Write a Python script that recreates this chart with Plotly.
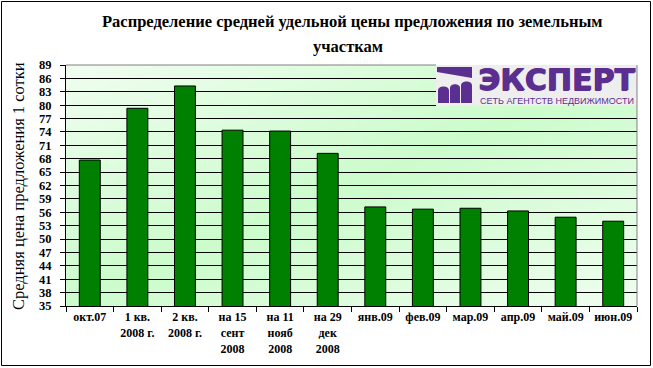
import base64, struct, zlib
import plotly.graph_objects as go

# ---------------- data ----------------
categories = ["окт.07", "1 кв.<br>2008 г.", "2 кв.<br>2008 г.", "на 15<br>сент<br>2008",
              "на 11<br>нояб<br>2008", "на 29<br>дек<br>2008", "янв.09", "фев.09",
              "мар.09", "апр.09", "май.09", "июн.09"]
values = [67.7, 79.3, 84.3, 74.4, 74.2, 69.2, 57.2, 56.7, 56.9, 56.3, 54.9, 54.0]
y_ticks = list(range(35, 90, 3))
title_line1 = "Распределение средней удельной цены предложения по земельным"
title_line2 = "участкам"
y_title = "Средняя цена предложения 1 сотки"
logo_main = "ЭКСПЕРТ"
logo_sub = "СЕТЬ АГЕНТСТВ НЕДВИЖИМОСТИ"

# ---------------- geometry helpers ----------------
FW, FH = 653, 368
L, R, T, B = 66, 637, 65, 306
W, H = R - L, B - T
def fx(px): return (px - L) / W
def fy(py): return (B - py) / H

# ---------------- gradient background (PNG data URI) ----------------
def make_png(w, h, fn):
    raw = b""
    for y in range(h):
        row = bytearray([0])
        for x in range(w):
            row.extend(fn(x, y))
        raw += bytes(row)
    def chunk(t, d):
        return struct.pack(">I", len(d)) + t + d + struct.pack(">I", zlib.crc32(t + d) & 0xffffffff)
    return (b"\x89PNG\r\n\x1a\n" + chunk(b"IHDR", struct.pack(">IIBBBBB", w, h, 8, 2, 0, 0, 0))
            + chunk(b"IDAT", zlib.compress(raw)) + chunk(b"IEND", b""))

light = (240, 253, 240)
green = (204, 252, 204)
GW, GH = 64, 48
def grad(x, y):
    t = abs(x / (GW - 1) + y / (GH - 1) - 1.0)
    return bytes(int(round(g + (l - g) * t)) for g, l in zip(green, light))
png_uri = "data:image/png;base64," + base64.b64encode(make_png(GW, GH, grad)).decode()

serif = "Liberation Serif, Times New Roman, serif"
purple = "#5b2f8f"

fig = go.Figure(go.Bar(
    x=categories, y=values,
    marker=dict(color="#008000", line=dict(color="black", width=1)),
    hoverinfo="x+y",
))

shapes = []
# logo background
shapes.append(dict(type="rect", xref="paper", yref="paper", layer="above",
                   x0=fx(436), x1=fx(637), y0=fy(106), y1=fy(65),
                   fillcolor="#eeeeee", line=dict(width=0)))
# logo band
shapes.append(dict(type="path", xref="paper", yref="paper", layer="above",
                   path=f"M {fx(437)},{fy(67)} L {fx(472)},{fy(67)} L {fx(472)},{fy(78)} L {fx(437)},{fy(72)} Z",
                   fillcolor=purple, line=dict(width=0)))
# logo arches
for (x0, x1, yt) in [(438, 449, 85), (450, 460, 83), (461, 472, 80)]:
    r = (x1 - x0) / 2
    p = (f"M {fx(x0)},{fy(103)} L {fx(x0)},{fy(yt + r)} "
         f"C {fx(x0)},{fy(yt)} {fx(x1)},{fy(yt)} {fx(x1)},{fy(yt + r)} "
         f"L {fx(x1)},{fy(103)} Z")
    shapes.append(dict(type="path", xref="paper", yref="paper", layer="above",
                       path=p, fillcolor=purple, line=dict(width=0)))
# top & right plot border (grey)
shapes.append(dict(type="line", xref="paper", yref="paper", layer="above",
                   x0=0, x1=fx(436), y0=1, y1=1, line=dict(color="#808080", width=1)))
shapes.append(dict(type="line", xref="paper", yref="paper", layer="above",
                   x0=1, x1=1, y0=0, y1=1, line=dict(color="#808080", width=1)))
# outer frame
shapes.append(dict(type="rect", xref="paper", yref="paper", layer="above",
                   x0=fx(1.5), x1=fx(650.5), y0=fy(365.5), y1=fy(1.5),
                   line=dict(color="black", width=1), fillcolor="rgba(0,0,0,0)"))

annotations = [
    dict(text=f"<b>{title_line1}</b>", x=fx(352), y=fy(22), xref="paper", yref="paper",
         showarrow=False, xanchor="center", yanchor="middle",
         font=dict(family=serif, size=16.5, color="black")),
    dict(text=f"<b>{title_line2}</b>", x=fx(348), y=fy(46), xref="paper", yref="paper",
         showarrow=False, xanchor="center", yanchor="middle",
         font=dict(family=serif, size=16.5, color="black")),
    dict(text=y_title, x=fx(18), y=fy(186), xref="paper", yref="paper",
         showarrow=False, xanchor="center", yanchor="middle", textangle=-90,
         font=dict(family=serif, size=16.5, color="black")),
    dict(text=f"<b>{logo_main}</b>", x=fx(556), y=fy(79), xref="paper", yref="paper",
         showarrow=False, xanchor="center", yanchor="middle",
         font=dict(family="DejaVu Sans", size=30, color=purple,
                   shadow=f"1px 0 0 {purple}, 0 0.5px 0 {purple}")),
    dict(text=logo_sub, x=fx(556.5), y=fy(100.5), xref="paper", yref="paper",
         showarrow=False, xanchor="center", yanchor="middle",
         font=dict(family="Liberation Sans, Arial, sans-serif", size=9, color=purple)),
]

fig.update_layout(
    width=FW, height=FH,
    margin=dict(l=L, r=FW - R, t=T, b=FH - B, pad=0),
    paper_bgcolor="white", plot_bgcolor="rgba(0,0,0,0)",
    bargap=0.56, showlegend=False,
    shapes=shapes, annotations=annotations,
    images=[dict(source=png_uri, xref="paper", yref="paper", x=0, y=1, sizex=1, sizey=1,
                 sizing="stretch", xanchor="left", yanchor="top", layer="below")],
    font=dict(family=serif, color="black"),
)
fig.update_xaxes(
    type="category", tickson="boundaries", ticks="outside", ticklen=5, tickcolor="black",
    showline=True, linecolor="black", linewidth=1, showgrid=False,
    tickfont=dict(family=serif, size=12, color="black"),
    tickvals=categories, ticktext=[f"<b>{c}</b>" for c in categories],
    fixedrange=True,
)
fig.update_yaxes(
    range=[35, 89], tickvals=y_ticks, ticktext=[f"<b>{v}</b>" for v in y_ticks],
    ticks="outside", ticklen=5, tickcolor="black", ticklabelstandoff=6,
    showline=True, linecolor="black", linewidth=1,
    showgrid=True, gridcolor="black", gridwidth=1, zeroline=False,
    tickfont=dict(family=serif, size=12.5, color="black"),
    fixedrange=True,
)

fig.write_html("out.html", config={"displayModeBar": False},
               post_script="document.body.style.margin='0';document.body.style.overflow='hidden';")
